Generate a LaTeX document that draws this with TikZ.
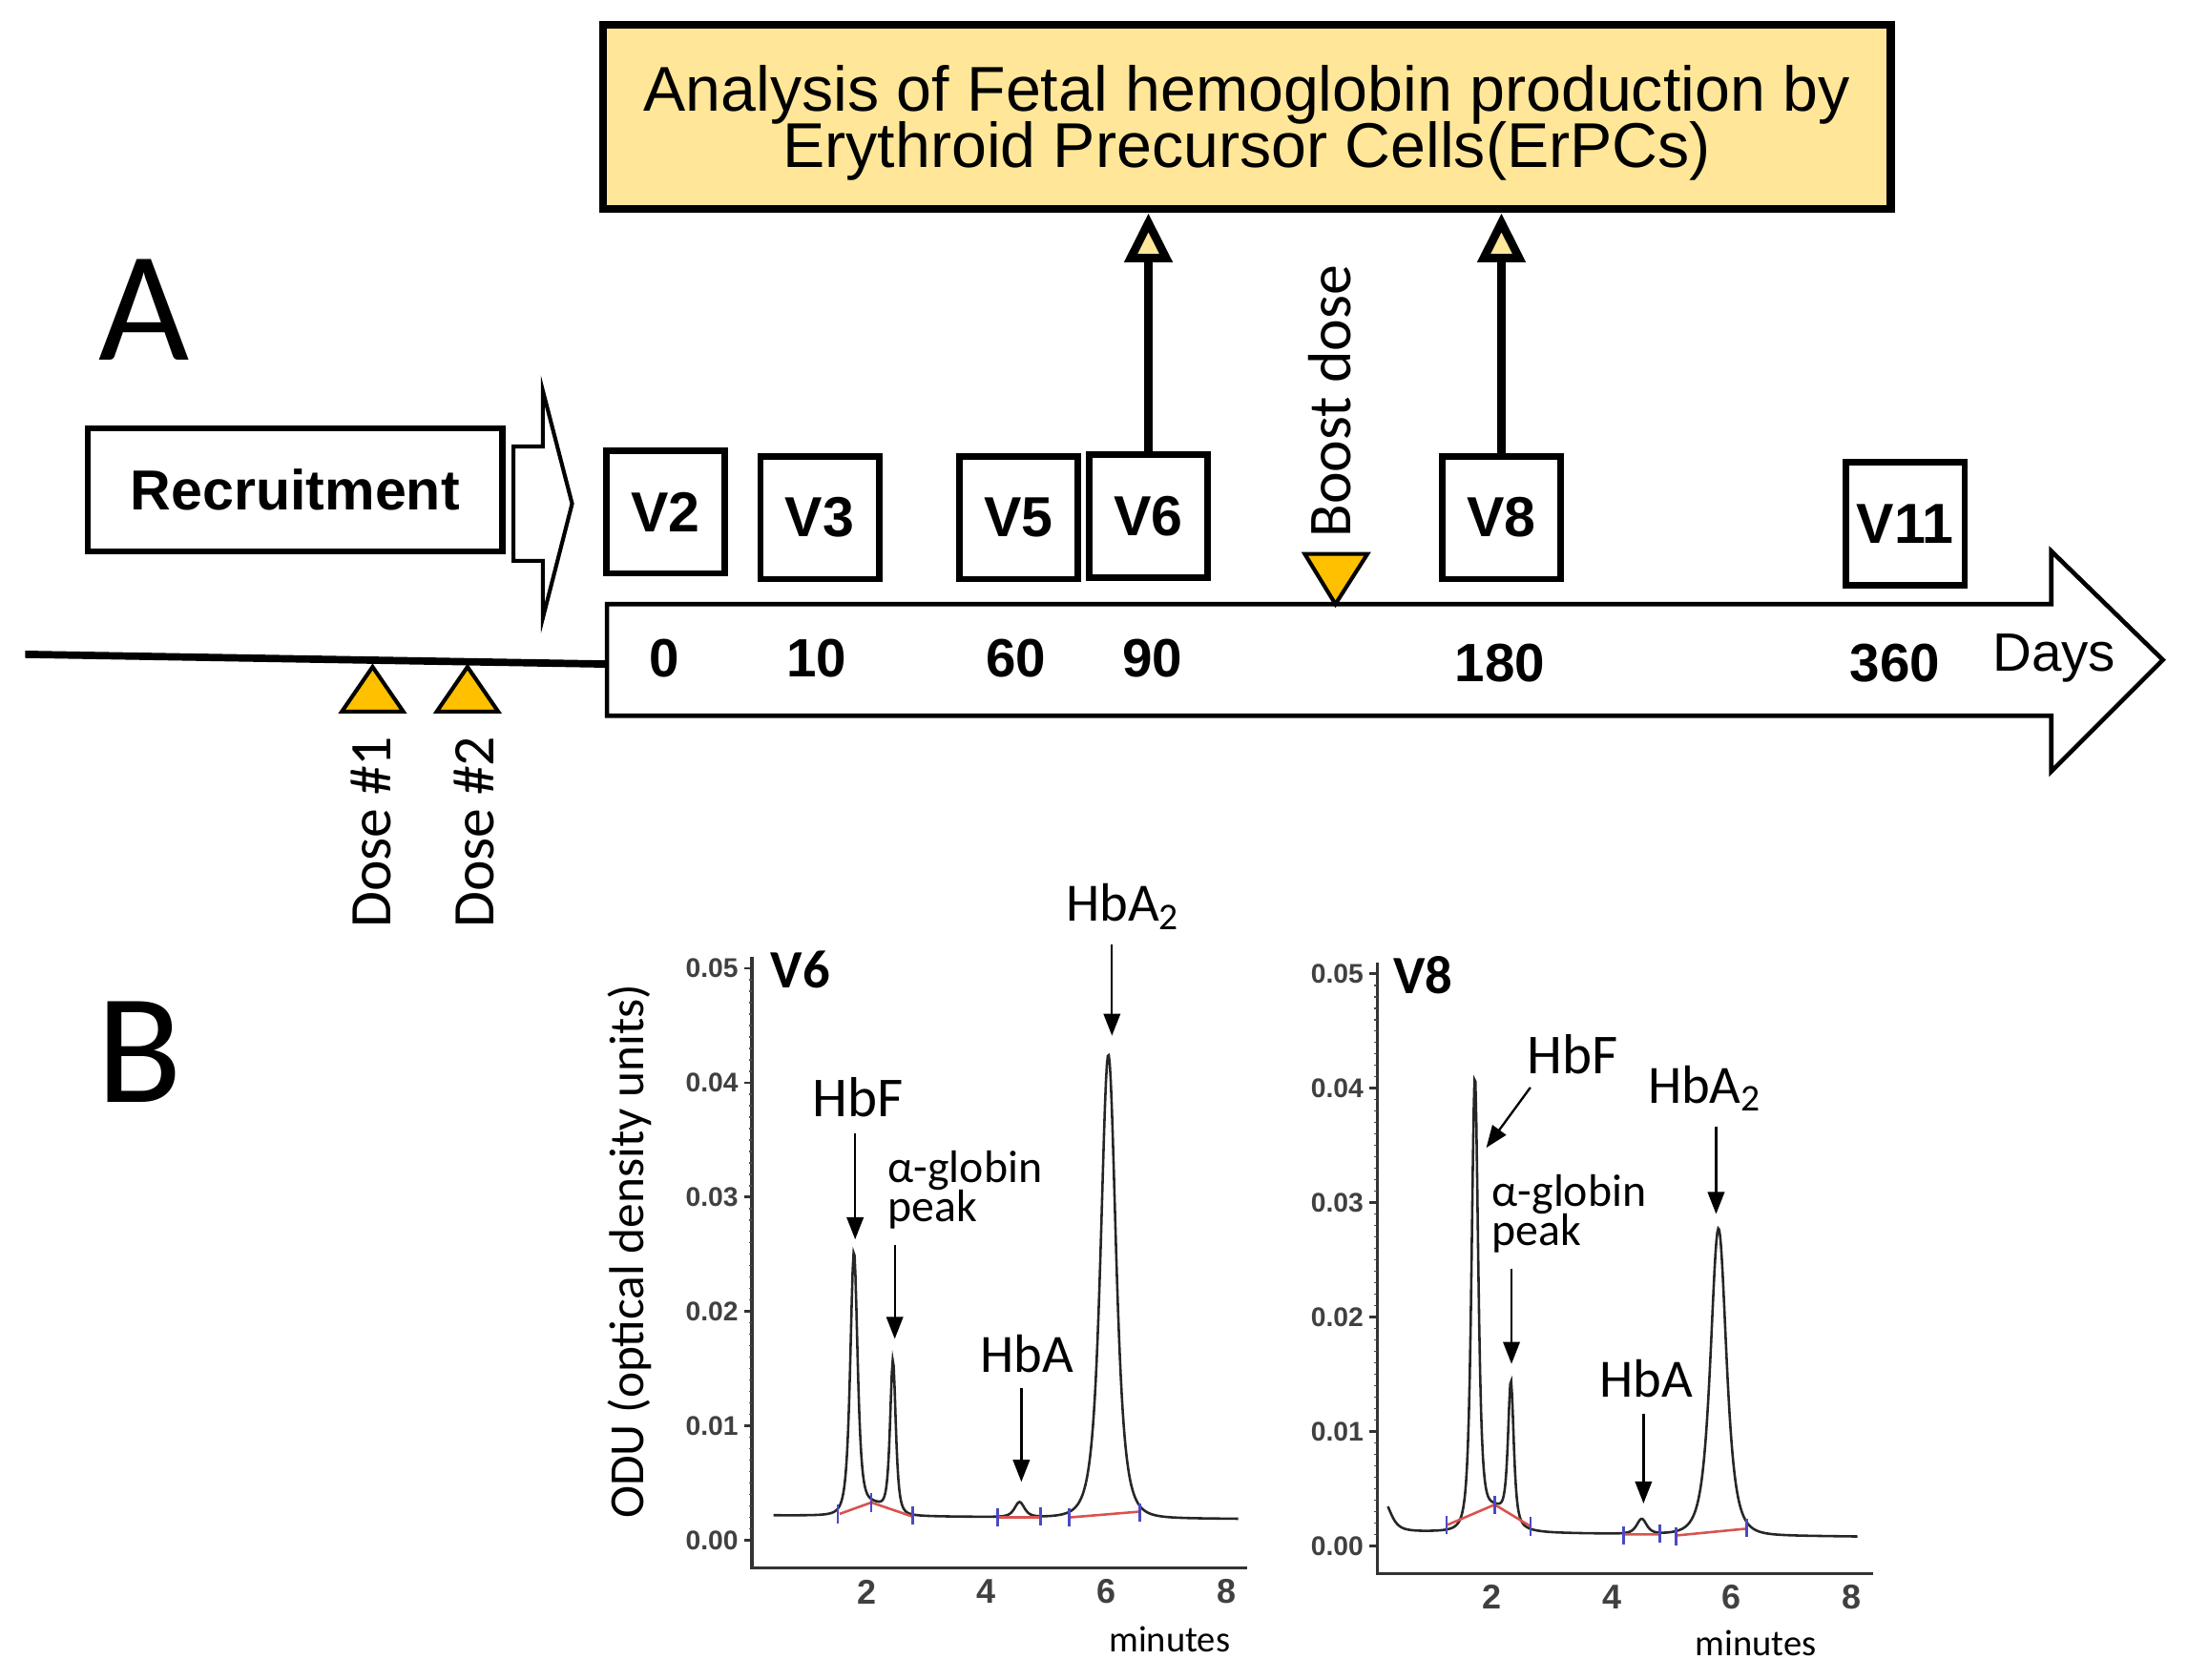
\documentclass[tikz,border=0pt]{standalone}
\usepackage{fontspec}
\setmainfont{Liberation Sans}
\newfontfamily\calibri{Carlito}
\usepackage{tikz}
\usetikzlibrary{arrows.meta}

\definecolor{fetalfill}{HTML}{FFE699}
\definecolor{dosefill}{HTML}{FFC000}
\definecolor{intred}{HTML}{D9534F}
\definecolor{tickblue}{HTML}{4A4AC4}
\setlength{\lineskiplimit}{-5pt}

\begin{document}
\begin{tikzpicture}[x=0.1mm, y=-0.1mm,
  Panel/.style={font=\calibri\fontsize{32pt}{32pt}\selectfont},
  Visit/.style={draw, line width=1.3pt, minimum width=8.5mm, minimum height=8.8mm, inner sep=0, font=\fontsize{11.5pt}{12pt}\selectfont\bfseries},
  Day/.style={font=\fontsize{11pt}{12pt}\selectfont\bfseries},
  Dose/.style={draw, line width=0.8pt, fill=dosefill, line join=miter},
  DoseLabel/.style={rotate=90, inner sep=0, font=\calibri\fontsize{12pt}{12pt}\selectfont},
  Connection/.style={line width=1.7pt, -{Triangle[length=10pt, width=9.5pt, fill=fetalfill]}},
  Trace/.style={line width=0.5pt, black!85},
  Integration/.style={intred, line width=0.5pt},
  PeakArrow/.style={line width=0.45pt, shorten <=2pt, -{Triangle[length=4.5pt, width=3.4pt]}},
  PeakLabel/.style={inner sep=1pt, font=\calibri\fontsize{11pt}{11pt}\selectfont},
  GlobinLabel/.style={inner sep=1pt, align=left, font=\calibri\fontsize{9.3pt}{8pt}\selectfont},
  TickLabel/.style={inner sep=1pt, black!75, font=\fontsize{5.5pt}{6pt}\selectfont\bfseries},
  declare function={pk(\q,\m,\h,\w)=\h/(1+((\q-\m)/\w)*((\q-\m)/\w))/(1+((\q-\m)/\w)*((\q-\m)/\w));}]

\useasboundingbox (0, 0) rectangle (1568, 1204);

\node [Panel] (labelA) at (103, 222) {A};
\node [Panel] (labelB) at (100, 754) {B};

\node [draw, line width=1.6pt, fill=fetalfill, minimum width=92.3mm, minimum height=13.2mm, inner sep=0] (fetal) at (893.5, 84) {};
\node [align=center, inner sep=0, font=\fontsize{12.9pt}{11.4pt}\selectfont] (fetaltext) at (893.5, 88)
  {Analysis of Fetal hemoglobin production by\\Erythroid Precursor Cells(ErPCs)};

\node [draw, line width=1.2pt, minimum width=29.7mm, minimum height=8.8mm, inner sep=0,
  font=\fontsize{11.5pt}{12pt}\selectfont\bfseries] (recruit) at (211.5, 351) {Recruitment};
\draw [line width=0.8pt] (368, 320) -- (389, 320) -- (389, 280) -- (410, 361) -- (389, 443) -- (389, 402) -- (368, 402) -- cycle;

\foreach \pos/\ypos/\name in {477/367/V2, 587.5/371/V3, 730/371/V5, 823/370/V6, 1076/371/V8, 1365.5/375.5/V11} {
  \node [Visit] (\name) at (\pos, \ypos) {\name};
}

\draw [Connection] (V6.north) -- (V6.north |- fetal.south);
\draw [Connection] (V8.north) -- (V8.north |- fetal.south);

% time line
\draw [line width=0.9pt] (435, 433) -- (1470, 433) -- (1470, 395) -- (1550, 473) -- (1470, 553) -- (1470, 513) -- (435, 513) -- cycle;
\coordinate (start) at (18, 469);
\coordinate (zero) at (435, 476);
\draw [line width=1.5pt] (start) -- (zero);

\foreach \pos/\ypos/\day in {476/472/0, 585/472/10, 728/472/60, 826/472/90, 1075/475/180, 1358/475/360} {
  \node [Day] (day\day) at (\pos, \ypos) {\day};
}
\node [font=\fontsize{11pt}{12pt}\selectfont] (days) at (1472, 472) {Days};

\foreach \pos/\lpos/\num in {267/266/1, 335/340/2} {
  \draw [Dose] (\pos, 478) -- (\pos + 22, 510) -- (\pos - 22, 510) -- cycle;
  \node [DoseLabel, anchor=east] (dose\num) at (\lpos, 527) {Dose \#\num};
}

\draw [Dose] (935, 397) -- (980, 397) -- (957, 433) -- cycle;
\node [DoseLabel, anchor=west, font=\calibri\fontsize{12.4pt}{12pt}\selectfont] (boost) at (953, 386) {Boost dose};

% panel B: axes
\node [rotate=90, font=\calibri\fontsize{10pt}{10pt}\selectfont] (odu) at (451, 897) {ODU (optical density units)};

\foreach \ox/\oy/\chart in {535/1104/6, 983/1108/8} {
  \begin{scope}[shift={(\ox, \oy)}, x=4.3mm, y=0.82mm]
    \draw [line width=0.6pt, black!80] (0.09, 51) -- (0.09, -2.4) -- (8.35, -2.4);
    \foreach \v in {0, 1, ..., 50} {
      \draw [line width=0.3pt, black!70] (0.04, \v) -- (0.09, \v);
    }
    \foreach \v in {0, 1, ..., 5} {
      \draw [line width=0.5pt, black!80] (-0.04, 10*\v) -- (0.09, 10*\v);
      \node [TickLabel, anchor=east] (ytick\chart\v) at (-0.04, 10*\v) {0.0\v};
    }
    \foreach \t in {2, 4, 6, 8} {
      \node [TickLabel, font=\fontsize{7pt}{7pt}\selectfont\bfseries] (xtick\chart\t) at (\t, -4.5) {\t};
    }
  \end{scope}
}

% V6 chromatogram
\begin{scope}[shift={(535, 1104)}, x=4.3mm, y=0.82mm]
  \draw [Trace] plot [domain=0.45:8.2, samples=500] (\x, {2.2 - 0.04*\x + pk(\x,2.1,1.1,0.45) + pk(\x,1.79,22.6,0.11) + pk(\x,2.44,13.2,0.085) + pk(\x,4.55,1.3,0.15) + pk(\x,6.03,40.5,0.23)});
  \draw [Integration] (1.55, 2.3) -- (2.08, 3.3) -- (2.75, 2.1) (4.2, 2.0) -- (4.9, 2.0) (5.4, 2.0) -- (6.55, 2.5);
  \foreach \t/\v in {1.52/2.3, 2.08/3.3, 2.77/2.2, 4.18/2.0, 4.9/2.1, 5.38/2.0, 6.55/2.4} {
    \draw [tickblue, line width=0.5pt] (\t, \v - 0.8) -- (\t, \v + 0.8);
  }
  \node [font=\calibri\bfseries\fontsize{11pt}{11pt}\selectfont] (titleV6) at (0.9, 49.9) {V6};
  \node [font=\calibri\fontsize{7.5pt}{8pt}\selectfont] (min6) at (7.05, -8.66) {minutes};

  \node [PeakLabel, font=\calibri\fontsize{11.5pt}{11pt}\selectfont] (hbf6) at (1.86, 38.7) {HbF};
  \node [GlobinLabel, anchor=west] (alpha6) at (2.26, 30.6) {α-globin\\peak};
  \node [PeakLabel] (hba6) at (4.67, 16.3) {HbA};
  \node [PeakLabel] (hbaa6) at (6.28, 55.4) {HbA\textsubscript{2}};
  \coordinate (hbf6peak) at (1.81, 26.3);
  \coordinate (alpha6peak) at (2.47, 17.6);
  \coordinate (hba6peak) at (4.58, 5.1);
  \coordinate (hbaa6peak) at (6.09, 44.1);
  \draw [PeakArrow] (hbf6.south -| hbf6peak) -- (hbf6peak);
  \draw [PeakArrow] (alpha6.south -| alpha6peak) -- (alpha6peak);
  \draw [PeakArrow] (hba6.south -| hba6peak) -- (hba6peak);
  \draw [PeakArrow] (hbaa6.south -| hbaa6peak) -- (hbaa6peak);
\end{scope}

% V8 chromatogram
\begin{scope}[shift={(983, 1108)}, x=4.3mm, y=0.82mm]
  \draw [Trace] plot [domain=0.27:8.1, samples=500] (\x, {1.3 - 0.06*\x + pk(\x,0.2,2.6,0.22) + pk(\x,2.05,2.2,0.45) + pk(\x,1.72,39,0.1) + pk(\x,2.32,12.1,0.085) + pk(\x,4.5,1.3,0.15) + pk(\x,5.78,26.8,0.24)});
  \draw [Integration] (1.25, 1.8) -- (2.05, 3.6) -- (2.65, 1.7) (4.2, 1.0) -- (4.8, 1.0) (5.07, 0.9) -- (6.25, 1.5);
  \foreach \t/\v in {1.25/1.8, 2.05/3.6, 2.65/1.7, 4.2/0.9, 4.8/1.1, 5.07/0.8, 6.25/1.6} {
    \draw [tickblue, line width=0.5pt] (\t, \v - 0.8) -- (\t, \v + 0.8);
  }
  \node [font=\calibri\bfseries\fontsize{11pt}{11pt}\selectfont] (titleV8) at (0.86, 49.9) {V8};
  \node [font=\calibri\fontsize{7.5pt}{8pt}\selectfont] (min8) at (6.4, -8.5) {minutes};

  \node [PeakLabel, font=\calibri\fontsize{11.5pt}{11pt}\selectfont] (hbf8) at (3.35, 43.0) {HbF};
  \node [GlobinLabel, anchor=west] (alpha8) at (1.91, 29.0) {α-globin\\peak};
  \node [PeakLabel] (hba8) at (4.58, 14.6) {HbA};
  \node [PeakLabel] (hbaa8) at (5.56, 40.0) {HbA\textsubscript{2}};
  \coordinate (hbf8peak) at (1.91, 34.8);
  \coordinate (alpha8peak) at (2.33, 15.9);
  \coordinate (hba8peak) at (4.53, 3.7);
  \coordinate (hbaa8peak) at (5.74, 29.0);
  \draw [PeakArrow] ([xshift=3pt]hbf8.south west) -- (hbf8peak);
  \draw [PeakArrow] (alpha8.south -| alpha8peak) -- (alpha8peak);
  \draw [PeakArrow] (hba8.south -| hba8peak) -- (hba8peak);
  \draw [PeakArrow] (hbaa8.south -| hbaa8peak) -- (hbaa8peak);
\end{scope}
\end{tikzpicture}
\end{document}
